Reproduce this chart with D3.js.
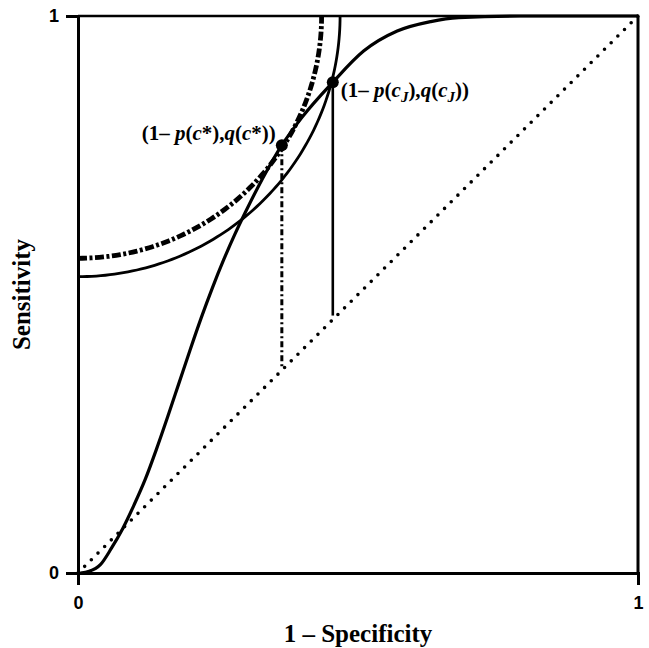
<!DOCTYPE html>
<html>
<head>
<meta charset="utf-8">
<script src="https://cdn.jsdelivr.net/npm/d3@7"></script>
<style>
  body { margin: 0; background: #fff; }
  svg { display: block; }
  .tick text { font-family: Arial, "Liberation Sans", sans-serif; font-weight: bold; font-size: 18px; fill: #000; }
  .lbl { font-family: "Liberation Serif", "Times New Roman", serif; font-weight: bold; }
</style>
</head>
<body>
<svg id="chart" width="649" height="648"></svg>
<script>
// ROC curve (1 - specificity, sensitivity)
const rocFpr = [0.004, 0.02, 0.04, 0.06, 0.08, 0.10, 0.12, 0.14, 0.16, 0.18, 0.20, 0.22, 0.24, 0.26, 0.28, 0.30, 0.32, 0.34, 0.364, 0.40, 0.455, 0.51, 0.57, 0.63, 0.68, 0.79, 1.0];
const rocSens = [0.000, 0.003, 0.015, 0.045, 0.080, 0.122, 0.168, 0.222, 0.280, 0.340, 0.400, 0.458, 0.512, 0.562, 0.608, 0.650, 0.690, 0.727, 0.768, 0.818, 0.881, 0.937, 0.973, 0.990, 0.997, 1.0, 1.0];

// circles around (0,1): c* (closest point) and cJ
const circleRadii = [0.435, 0.468];
const cutNames = ['c*', 'J'];
const cutFpr = [0.364, 0.455];
const cutSens = [0.768, 0.881];

const axisTicks = [0, 1];

const svg = d3.select('#chart');
const plotLeft = 78, plotRight = 638, plotTop = 16, plotBottom = 573;

const x = d3.scaleLinear().domain([0, 1]).range([plotLeft, plotRight]);
const y = d3.scaleLinear().domain([0, 1]).range([plotBottom, plotTop]);

// chance diagonal
svg.append('line')
  .attr('x1', x(0)).attr('y1', y(0))
  .attr('x2', x(1)).attr('y2', y(1))
  .attr('stroke', '#000')
  .attr('stroke-width', 3.6)
  .attr('stroke-linecap', 'round')
  .attr('stroke-dasharray', '0 9.4');

// circles centred at (0,1)
const angles = d3.range(0, 91, 1).map((a) => a * Math.PI / 180);
const arcLine = d3.line().x((d) => x(d[0])).y((d) => y(d[1]));

circleRadii.forEach((r, i) => {
  const pts = angles.map((a) => [r * Math.sin(a), 1 - r * Math.cos(a)]);
  svg.append('path')
    .attr('d', arcLine(pts))
    .attr('fill', 'none')
    .attr('stroke', '#000')
    .attr('stroke-width', i === 0 ? 4.8 : 2.8)
    .attr('stroke-dasharray', i === 0 ? '9 2.5 3 2.5' : null);
});

// ROC curve
const rocLine = d3.line()
  .x((d, i) => x(rocFpr[i]))
  .y((d, i) => y(rocSens[i]))
  .curve(d3.curveMonotoneX);

svg.append('path')
  .attr('d', rocLine(rocFpr))
  .attr('fill', 'none')
  .attr('stroke', '#000')
  .attr('stroke-width', 3.2);

// verticals from cut points down to the diagonal
cutFpr.forEach((f, i) => {
  svg.append('line')
    .attr('x1', x(f)).attr('y1', y(cutSens[i]))
    .attr('x2', x(f)).attr('y2', y(f) - 4)
    .attr('stroke', '#000')
    .attr('stroke-width', i === 0 ? 3 : 2.6)
    .attr('stroke-dasharray', i === 0 ? '6 3 2 3' : null);

  svg.append('circle')
    .attr('cx', x(f)).attr('cy', y(cutSens[i]))
    .attr('r', 6)
    .attr('fill', '#000');
});

// point labels
function addLabel(sub, xPos, yPos, anchor) {
  const t = svg.append('text')
    .attr('class', 'lbl')
    .attr('x', xPos).attr('y', yPos)
    .attr('font-size', 21)
    .attr('text-anchor', anchor);
  const isJ = sub === 'J';
  const parts = [
    ['(1– ', false], ['p', true], ['(', false], ['c', true]
  ];
  parts.forEach(([s, it]) => t.append('tspan').attr('font-style', it ? 'italic' : null).text(s));
  if (isJ) {
    t.append('tspan').attr('font-style', 'italic').attr('font-size', 15).attr('dy', 5).text('J');
    t.append('tspan').attr('dy', -5).text('),');
  } else {
    t.append('tspan').text('*),');
  }
  t.append('tspan').attr('font-style', 'italic').text('q');
  t.append('tspan').text('(');
  t.append('tspan').attr('font-style', 'italic').text('c');
  if (isJ) {
    t.append('tspan').attr('font-style', 'italic').attr('font-size', 15).attr('dy', 5).text('J');
    t.append('tspan').attr('dy', -5).text('))');
  } else {
    t.append('tspan').text('*))');
  }
}

addLabel(cutNames[0], x(cutFpr[0]) - 6, y(cutSens[0]) - 5, 'end');
addLabel(cutNames[1], x(cutFpr[1]) + 8, y(cutSens[1]) + 15, 'start');

// axes
const xAxis = svg.append('g')
  .attr('transform', `translate(0,${plotBottom})`)
  .call(d3.axisBottom(x).tickValues(axisTicks).tickSize(12).tickFormat(d3.format('d')));
const yAxis = svg.append('g')
  .attr('transform', `translate(${plotLeft},0)`)
  .call(d3.axisLeft(y).tickValues(axisTicks).tickSize(12).tickFormat(d3.format('d')));

[xAxis, yAxis].forEach((g) => {
  g.select('.domain').attr('stroke', '#000').attr('stroke-width', 3);
  g.selectAll('.tick line').attr('stroke', '#000').attr('stroke-width', 3);
});
xAxis.selectAll('.tick text').attr('dy', '0.95em').attr('y', 19);
yAxis.selectAll('.tick text').attr('x', -19);

// top and right frame
svg.append('line')
  .attr('x1', x(0)).attr('y1', y(1)).attr('x2', x(1)).attr('y2', y(1))
  .attr('stroke', '#000').attr('stroke-width', 2.5);
svg.append('line')
  .attr('x1', x(1)).attr('y1', y(1)).attr('x2', x(1)).attr('y2', y(0))
  .attr('stroke', '#000').attr('stroke-width', 3);

// axis titles
svg.append('text')
  .attr('class', 'lbl')
  .attr('x', (plotLeft + plotRight) / 2)
  .attr('y', 642)
  .attr('text-anchor', 'middle')
  .attr('font-size', 25)
  .text('1 – Specificity');

svg.append('text')
  .attr('class', 'lbl')
  .attr('transform', `translate(30,${(plotTop + plotBottom) / 2}) rotate(-90)`)
  .attr('text-anchor', 'middle')
  .attr('font-size', 25)
  .text('Sensitivity');
</script>
</body>
</html>
